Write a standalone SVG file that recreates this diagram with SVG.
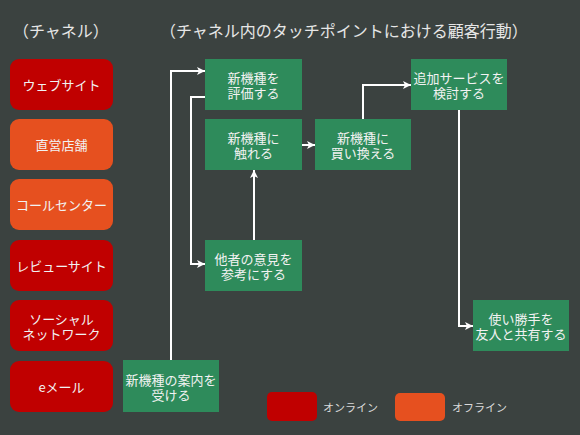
<svg xmlns="http://www.w3.org/2000/svg" width="580" height="435" viewBox="0 0 580 435">
<defs>
<style>
.t{font-family:"Noto Sans CJK JP","Noto Sans",sans-serif;fill:#F2F2F2;font-size:13px;text-anchor:middle;dominant-baseline:central}
.ttl{font-family:"Noto Sans CJK JP","Noto Sans",sans-serif;fill:#E6E6E6;font-size:16px;dominant-baseline:central}
.lg{font-family:"Noto Sans CJK JP","Noto Sans",sans-serif;fill:#D9D9D9;font-size:11px;dominant-baseline:central}
.on{fill:#C00000}
.off{fill:#E6501F}
.g{fill:#2E8B5B}
.c{fill:none;stroke:#FFFFFF;stroke-width:2}
</style>
<marker id="ah" markerUnits="userSpaceOnUse" markerWidth="10" markerHeight="10" viewBox="0 0 10 10" refX="9" refY="5" orient="auto">
<path d="M1,1 L9,5 L1,9 L3,5 Z" fill="#FFFFFF"/>
</marker>
</defs>
<rect width="580" height="435" fill="#3B4240"/>
<text class="ttl" x="13" y="30">（チャネル）</text>
<text class="ttl" x="160" y="30">（チャネル内のタッチポイントにおける顧客行動）</text>

<g id="ch-web"><rect class="on" x="10" y="59" width="103" height="51" rx="9"/><text class="t" x="61.5" y="84.5">ウェブサイト</text></g>
<g id="ch-store"><rect class="off" x="10" y="119" width="103" height="51" rx="9"/><text class="t" x="61.5" y="144.5">直営店舗</text></g>
<g id="ch-call"><rect class="off" x="10" y="179" width="103" height="51" rx="9"/><text class="t" x="61.5" y="204.5">コールセンター</text></g>
<g id="ch-review"><rect class="on" x="10" y="240" width="103" height="51" rx="9"/><text class="t" x="61.5" y="265.5">レビューサイト</text></g>
<g id="ch-sns"><rect class="on" x="10" y="300" width="103" height="51" rx="9"/><text class="t" x="61.5" y="318"><tspan x="61.5">ソーシャル</tspan><tspan x="61.5" dy="15">ネットワーク</tspan></text></g>
<g id="ch-mail"><rect class="on" x="10" y="361" width="103" height="51" rx="9"/><text class="t" x="61.5" y="386.5">eメール</text></g>

<g id="connectors">
<path class="c" d="M171,360 V71 H205" marker-end="url(#ah)"/>
<path class="c" d="M205,97 H191 V264 H205" marker-end="url(#ah)"/>
<path class="c" d="M254,240 V170" marker-end="url(#ah)"/>
<path class="c" d="M301,145 H315" marker-end="url(#ah)"/>
<path class="c" d="M363,119 V85 H411" marker-end="url(#ah)"/>
<path class="c" d="M459,110 V326 H473" marker-end="url(#ah)"/>
</g>

<g id="n-evaluate"><rect class="g" x="205" y="59" width="97" height="51"/><text class="t" x="253.5" y="77"><tspan x="253.5">新機種を</tspan><tspan x="253.5" dy="15">評価する</tspan></text></g>
<g id="n-touch"><rect class="g" x="205" y="119" width="97" height="51"/><text class="t" x="253.5" y="137"><tspan x="253.5">新機種に</tspan><tspan x="253.5" dy="15">触れる</tspan></text></g>
<g id="n-buy"><rect class="g" x="315" y="119" width="96" height="51"/><text class="t" x="363" y="137"><tspan x="363">新機種に</tspan><tspan x="363" dy="15">買い換える</tspan></text></g>
<g id="n-service"><rect class="g" x="411" y="59" width="96" height="51"/><text class="t" x="459" y="77"><tspan x="459">追加サービスを</tspan><tspan x="459" dy="15">検討する</tspan></text></g>
<g id="n-opinion"><rect class="g" x="205" y="240" width="97" height="51"/><text class="t" x="253.5" y="258"><tspan x="253.5">他者の意見を</tspan><tspan x="253.5" dy="15">参考にする</tspan></text></g>
<g id="n-info"><rect class="g" x="123" y="360" width="96" height="52"/><text class="t" x="171" y="378.5"><tspan x="171">新機種の案内を</tspan><tspan x="171" dy="15">受ける</tspan></text></g>
<g id="n-share"><rect class="g" x="473" y="300" width="96" height="51"/><text class="t" x="521" y="318"><tspan x="521">使い勝手を</tspan><tspan x="521" dy="15">友人と共有する</tspan></text></g>

<g id="legend">
<rect class="on" x="267" y="392" width="50" height="29" rx="5"/>
<text class="lg" x="323" y="407">オンライン</text>
<rect class="off" x="395" y="393" width="50" height="28" rx="5"/>
<text class="lg" x="452" y="407">オフライン</text>
</g>
</svg>
